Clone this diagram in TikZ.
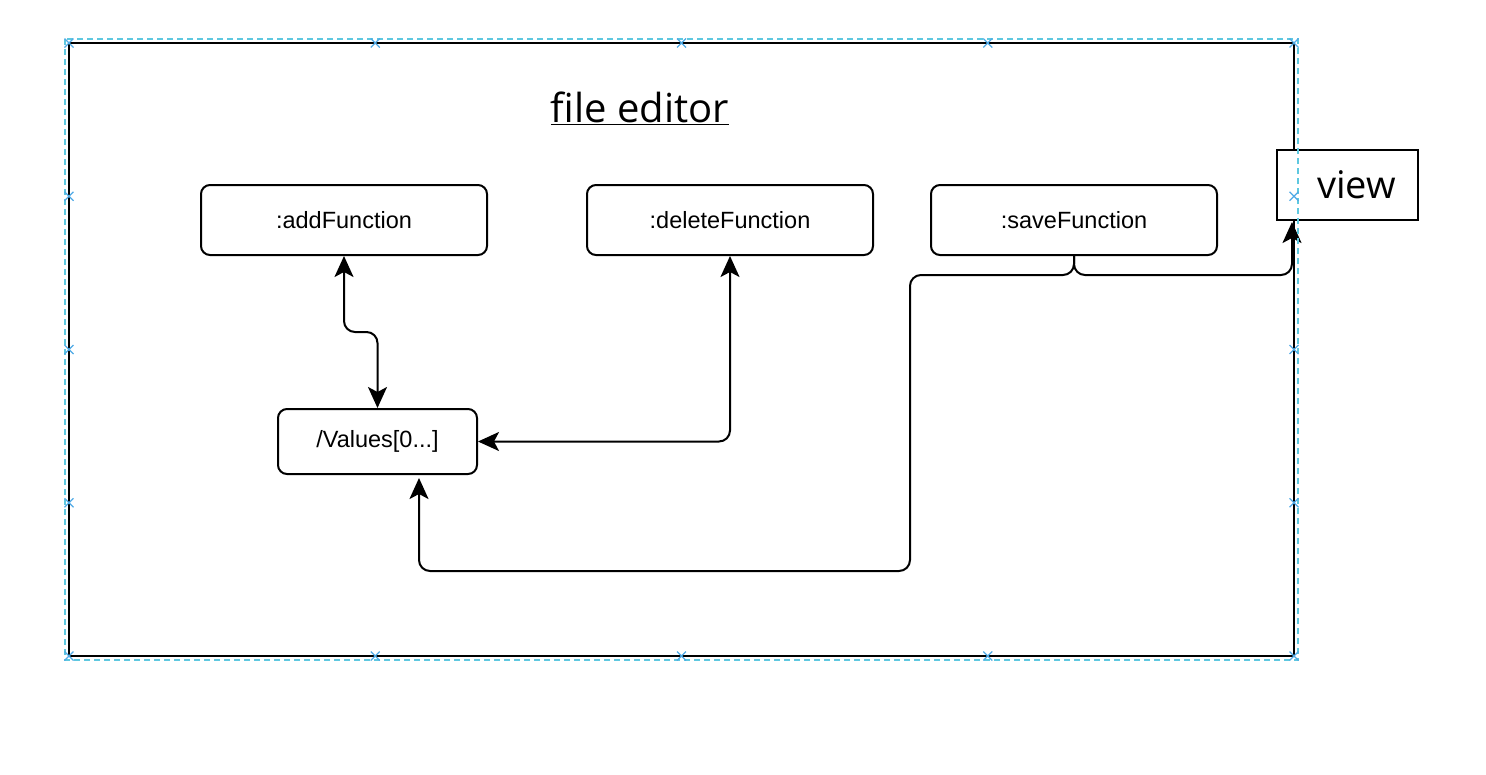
\documentclass[tikz,border=0pt]{standalone}
\usepackage{fontspec}
\setmainfont{Liberation Sans}
\newfontfamily\titlefont{Open Sans}
\usetikzlibrary{arrows.meta}
\definecolor{selblue}{RGB}{94,200,224}
\definecolor{markblue}{RGB}{80,170,230}
\tikzset{
  fnbox/.style={draw=black, line width=2pt, rounded corners=9pt, fill=white,
    minimum width=286pt, minimum height=70pt, inner sep=0pt, font=\fontsize{23.5}{27}\selectfont},
  valbox/.style={fnbox, minimum width=199pt, minimum height=65pt},
  viewbox/.style={draw=black, line width=2pt, fill=white, minimum width=141pt,
    minimum height=70pt, inner sep=0pt, font=\titlefont\fontsize{38}{42}\selectfont},
  conn/.style={draw=black, line width=2pt, rounded corners=11pt},
  dtip/.tip={Stealth[length=21pt,width=19pt,inset=5pt]},
  xmark/.style={draw=markblue, line width=1.3pt},
}
\begin{document}
\begin{tikzpicture}[x=1pt,y=-1pt]
\useasboundingbox (0,0) rectangle (1486,774);
% frame
\draw[line width=2pt] (69,43) rectangle (1294,656);
\node[font=\titlefont\fontsize{40}{46}\selectfont] (title) at (640,108) {\underline{file editor}};
% boxes
\node[fnbox] (add) at (344,220) {:addFunction};
\node[fnbox] (del) at (730,220) {:deleteFunction};
\node[fnbox] (save) at (1074,220) {:saveFunction};
\node[valbox] (vals) at (377.5,441.5) {/Values[0...]};
\node[viewbox] (view) at (1347.5,185) {\hspace*{18pt}view};
% connectors
\coordinate (aturn) at (344,332);
\draw[conn, dtip-dtip] (add.south) -- (aturn) -| (vals.north);
\draw[conn, dtip-dtip] (vals.east) -| (del.south);
\coordinate (split) at (1074,275);
\coordinate (lft) at (910,571);
\coordinate (vin) at (419,474);
\coordinate (vwin) at (1292,220);
\draw[conn, -dtip, shorten >=4pt] (save.south) -- (split) -| (lft) -| (vin);
\draw[conn, -dtip, shorten >=2pt] (save.south) -- (split) -| (vwin);
% selection overlay
\draw[selblue, line width=1.6pt, dash pattern=on 6pt off 4pt] (65,39) rectangle (1298,660);
\foreach \px in {69,375.25,681.5,987.75,1294}{
  \foreach \py in {43,656}{
    \draw[xmark] (\px-4.5,\py-4.5) -- (\px+4.5,\py+4.5) (\px-4.5,\py+4.5) -- (\px+4.5,\py-4.5);
  }
}
\foreach \py in {196.25,349.5,502.75}{
  \foreach \px in {69,1294}{
    \draw[xmark] (\px-4.5,\py-4.5) -- (\px+4.5,\py+4.5) (\px-4.5,\py+4.5) -- (\px+4.5,\py-4.5);
  }
}
\end{tikzpicture}
\end{document}
